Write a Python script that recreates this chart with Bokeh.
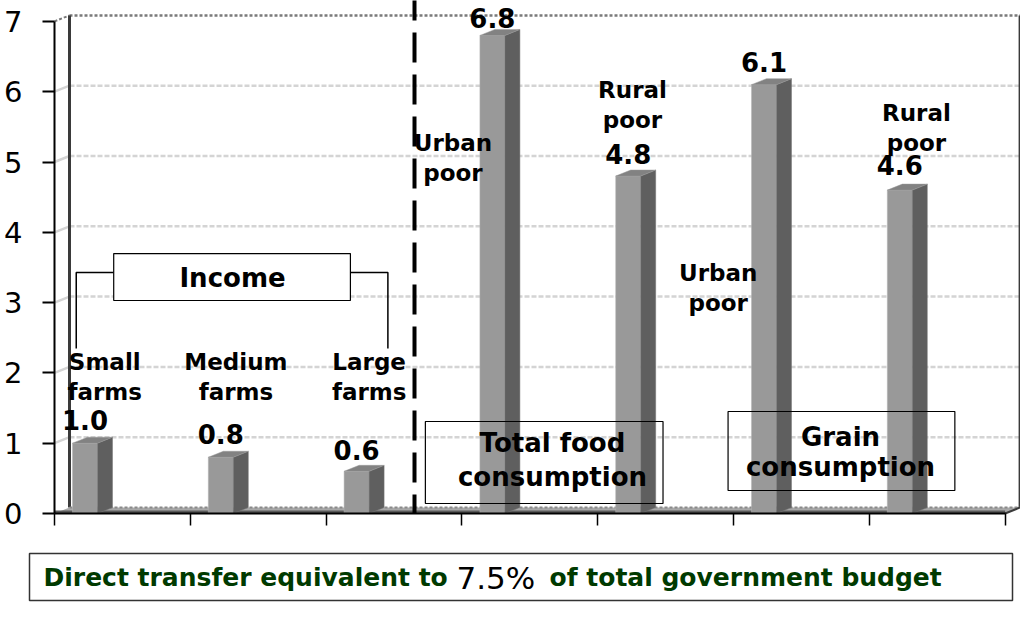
from bokeh.plotting import figure
from bokeh.models import Range1d, LinearAxis, FixedTicker, ColumnDataSource
from bokeh.core.properties import value
from bokeh.embed import file_html
from bokeh.resources import INLINE

# ---------------- data ----------------
categories = ["Small farms", "Medium farms", "Large farms",
              "Urban poor (total food)", "Rural poor (total food)",
              "Urban poor (grain)", "Rural poor (grain)"]
label_line1 = ["Small", "Medium", "Large", "Urban", "Rural", "Urban", "Rural"]
label_line2 = ["farms", "farms", "farms", "poor", "poor", "poor", "poor"]
values = [1.0, 0.8, 0.6, 6.8, 4.8, 6.1, 4.6]
value_labels = ["1.0", "0.8", "0.6", "6.8", "4.8", "6.1", "4.6"]
y_ticks = [0, 1, 2, 3, 4, 5, 6, 7]
group_income = ["Income"]
group_food = ["Total food", "consumption"]
group_grain = ["Grain", "consumption"]
note_parts = ["Direct transfer equivalent to", "7.5%", "of total government budget"]

# ---------------- layout (pixels / data units) ----------------
W, H = 1020, 602
X0, U = 54.0, 135.8      # pixel of x=0 and pixels per category
Y0, V = 513.0, 70.3      # pixel of y=0 and pixels per unit
DX, DY = 15.0 / U, 6.0 / V          # 3-D depth
BAR_OFF, BAR_W = 18.0 / U, 25.0 / U
N = len(values)


def fx(px):
    """screen pixel (from left) -> data x"""
    return (px - X0) / U


def fy(py):
    """screen pixel (from top) -> data y"""
    return (Y0 - py) / V


# label placements (data coordinates) and value-label offsets (pixels)
lab_x = [0.37, 1.336, 2.317, 2.934, 4.256, 4.887, 6.347]
lab_y1 = [2.148, 2.148, 2.148, 5.27, 6.03, 3.42, 5.70]
val_off = [-23, -23, -21, -17, -22, -23, -25]
LINE = 30.0 / V

FONT = value("DejaVu Sans")

p = figure(width=W, height=H, output_backend="svg", toolbar_location=None,
           x_axis_type=None, y_axis_type=None,
           x_range=Range1d(fx(0), fx(W)),
           y_range=Range1d(fy(H), fy(0)),
           min_border=0, min_border_left=0, min_border_right=0,
           min_border_top=0, min_border_bottom=0)
p.outline_line_color = None
p.background_fill_color = "white"
p.border_fill_color = "white"

# ---------------- back wall ----------------
grid_levels = y_ticks[1:-1]
p.multi_line(xs=[[DX, N + DX] for _ in grid_levels],
             ys=[[g + DY, g + DY] for g in grid_levels],
             line_color="#d4d4d4", line_width=2.5, line_dash="5 2")
p.multi_line(xs=[[0, DX] for _ in grid_levels],
             ys=[[g, g + DY] for g in grid_levels],
             line_color="#d4d4d4", line_width=2.5)
top = y_ticks[-1]
p.line([DX, N + DX], [top + DY, top + DY], line_color="#7a7a7a", line_width=2.5, line_dash="3 2")
p.line([0, DX], [top, top + DY], line_color="#7a7a7a", line_width=2, line_dash="3 2")
# left & right wall edges
p.line([DX, DX], [DY, top + DY], line_color="#3a3a3a", line_width=3)
p.line([N + DX, N + DX], [DY, top + DY], line_color="#3a3a3a", line_width=3)

# ---------------- floor ----------------
p.patch([0, N, N + DX, DX], [0, 0, DY, DY], fill_color="#a8a8a8", line_color=None)
p.line([DX, N + DX], [DY, DY], line_color="#8a8a8a", line_width=2, line_dash="3 2")
p.line([0, N], [0.25 * DY, 0.25 * DY], line_color="#5a5a5a", line_width=3)
p.line([N, N + DX], [0, DY], line_color="#3a3a3a", line_width=2)

# ---------------- bars ----------------
xl = [i + BAR_OFF for i in range(N)]
xr = [x + BAR_W for x in xl]
p.quad(left=xl, right=xr, bottom=0, top=values, fill_color="#999999", line_color="#b5b5b5", line_width=0.5)
p.patches(xs=[[r, r + DX, r + DX, r] for r in xr],
          ys=[[0, DY, v + DY, v] for v in values],
          fill_color="#5f5f5f", line_color="#777777", line_width=0.5)
p.patches(xs=[[l, r, r + DX, l + DX] for l, r in zip(xl, xr)],
          ys=[[v, v, v + DY, v + DY] for v in values],
          fill_color="#828282", line_color="#999999", line_width=0.5)

# value labels
vsrc = ColumnDataSource(dict(x=[(l + r) / 2 for l, r in zip(xl, xr)], y=values,
                             text=value_labels, off=val_off))
p.text(x="x", y="y", text="text", y_offset="off", source=vsrc,
       text_font=FONT, text_font_style="bold", text_font_size="26px",
       text_align="center", text_baseline="middle", text_color="black")

# separator
p.segment(x0=[2.651], y0=[fy(-10)], x1=[2.651], y1=[0], line_color="black",
          line_width=4, line_dash="30 12")

# category labels
p.text(x=lab_x, y=lab_y1, text=label_line1, text_font=FONT, text_font_style="bold",
       text_font_size="23px", text_align="center", text_baseline="middle", text_color="black")
p.text(x=lab_x, y=[y - LINE for y in lab_y1], text=label_line2, text_font=FONT,
       text_font_style="bold", text_font_size="23px", text_align="center",
       text_baseline="middle", text_color="black")

# Income bracket + box
p.multi_line(xs=[[0.16, 0.16, 0.436], [2.455, 2.455, 2.179]],
             ys=[[2.347, 3.428, 3.428], [2.347, 3.428, 3.428]],
             line_color="black", line_width=1.5)
p.quad(left=[0.436], right=[2.179], bottom=[3.030], top=[3.698],
       fill_color="white", line_color="black", line_width=1.2)
p.text(x=[1.311], y=[3.35], text=group_income, text_font=FONT, text_font_style="bold",
       text_font_size="26px", text_align="center", text_baseline="middle", text_color="black")

# Total food box
p.quad(left=[2.731], right=[4.481], bottom=[0.142], top=[1.309],
       fill_color="white", line_color="black", line_width=1.2, fill_alpha=0.0)
p.text(x=[3.667, 3.667], y=[0.996, 0.52], text=group_food, text_font=FONT, text_font_style="bold",
       text_font_size="26px", text_align="center", text_baseline="middle", text_color="black")

# Grain box
p.quad(left=[4.960], right=[6.630], bottom=[0.327], top=[1.451],
       fill_color="white", line_color="black", line_width=1.2, fill_alpha=0.0)
p.text(x=[5.788, 5.788], y=[1.095, 0.66], text=group_grain, text_font=FONT, text_font_style="bold",
       text_font_size="26px", text_align="center", text_baseline="middle", text_color="black")

# ---------------- axes ----------------
yax = LinearAxis(fixed_location=0, bounds=(0, 7), ticker=FixedTicker(ticks=y_ticks, minor_ticks=[]))
yax.major_tick_out = 12
yax.major_tick_in = 0
yax.minor_tick_out = 0
yax.axis_line_width = 2
yax.major_tick_line_width = 2
yax.axis_line_color = "black"
yax.major_label_text_font = "DejaVu Sans"
yax.major_label_text_font_size = "29px"
yax.major_label_text_color = "black"
yax.major_label_standoff = 20
p.add_layout(yax, "left")

xax = LinearAxis(fixed_location=0, bounds=(0, N), ticker=FixedTicker(ticks=list(range(N + 1)), minor_ticks=[]),
                 major_label_overrides={i: "" for i in range(N + 1)})
xax.major_tick_out = 12
xax.major_tick_in = 0
xax.axis_line_width = 2
xax.major_tick_line_width = 1.5
xax.axis_line_color = "black"
p.add_layout(xax, "below")

# ---------------- footnote box ----------------
NOTE_Y = fy(577)
p.quad(left=[fx(29)], right=[fx(1012)], top=[fy(553)], bottom=[fy(600)],
       fill_color="white", line_color="#333333", line_width=1.5)
p.text(x=[fx(43)], y=[NOTE_Y], text=[note_parts[0]], text_font=FONT, text_font_style="bold",
       text_font_size="25px", text_align="left", text_baseline="middle", text_color="#003a00")
p.text(x=[fx(456)], y=[NOTE_Y], text=[note_parts[1]], text_font=FONT, text_font_style="normal",
       text_font_size="31px", text_align="left", text_baseline="middle", text_color="black")
p.text(x=[fx(549)], y=[NOTE_Y], text=[note_parts[2]], text_font=FONT, text_font_style="bold",
       text_font_size="25px", text_align="left", text_baseline="middle", text_color="#003a00")

open("out.html", "w").write(file_html(p, INLINE))
